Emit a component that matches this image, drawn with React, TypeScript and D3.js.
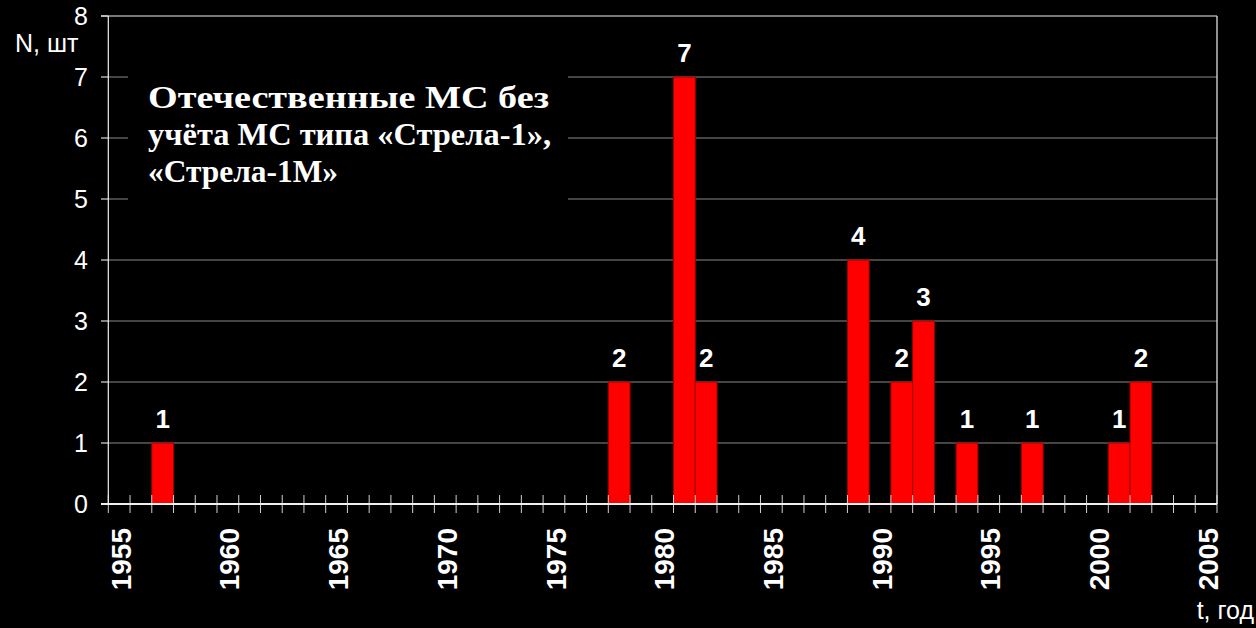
import React from "react";
import * as d3 from "d3";

const years: number[] = d3.range(1955, 2006);
const barYears: number[] = [1957, 1978, 1981, 1982, 1989, 1991, 1992, 1994, 1997, 2001, 2002];
const barValues: number[] = [1, 2, 7, 2, 4, 2, 3, 1, 1, 1, 2];
const yTicks: number[] = [0, 1, 2, 3, 4, 5, 6, 7, 8];
const xLabelYears: number[] = [1955, 1960, 1965, 1970, 1975, 1980, 1985, 1990, 1995, 2000, 2005];
const titleLines: string[] = ["Отечественные МС без", "учёта МС типа «Стрела-1»,", "«Стрела-1М»"];
const titleWidths: number[] = [401, 403, 190];
const yAxisTitle = "N, шт";
const xAxisTitle = "t, год";

const W = 1256;
const H = 628;
const left = 108.3;
const right = 1217;
const top = 16;
const bottom = 504;

export default function App() {
  const x = d3.scaleBand<number>().domain(years).range([left, right]).padding(0);
  const y = d3.scaleLinear().domain([0, 8]).range([bottom, top]);
  const step = x.step();
  const sans = "'Liberation Sans', Arial, sans-serif";
  const serif = "'Liberation Serif', 'Times New Roman', serif";

  return (
    <div style={{ position: "fixed", left: 0, top: 0, width: W, height: H, background: "#000" }}>
      <svg width={W} height={H} style={{ display: "block" }}>
        <rect x={0} y={0} width={W} height={H} fill="#000" />
        {yTicks.filter((v) => v > 0 && v < 8).map((v) => (
          <line key={"g" + v} x1={left} x2={right} y1={y(v)} y2={y(v)} stroke="#8a8a8a" strokeWidth={1.2} />
        ))}
        {yTicks.map((v) => (
          <line key={"yt" + v} x1={101} x2={left} y1={y(v)} y2={y(v)} stroke="#d8d8d8" strokeWidth={1.2} />
        ))}
        <rect x={128} y={62} width={440} height={148} fill="#000" />
        {titleLines.map((t, i) => (
          <text
            key={"t" + i}
            x={148}
            y={108 + i * 37}
            fill="#fff"
            fontFamily={serif}
            fontWeight="bold"
            fontSize={32}
            textLength={titleWidths[i]}
            lengthAdjust="spacingAndGlyphs"
          >
            {t}
          </text>
        ))}
        {barYears.map((yr, i) => (
          <rect
            key={"b" + yr}
            x={x(yr)!}
            y={y(barValues[i])}
            width={step}
            height={bottom - y(barValues[i])}
            fill="#ff0000"
            stroke="#a00000"
            strokeWidth={1}
          />
        ))}
        {d3.range(0, years.length + 1).map((i) => (
          <line key={"xt" + i} x1={left + i * step} x2={left + i * step} y1={495} y2={513} stroke="#d0d0d0" strokeWidth={1} />
        ))}
        <line x1={101} x2={right} y1={top} y2={top} stroke="#f0f0f0" strokeWidth={1.2} />
        <line x1={right} x2={right} y1={top} y2={bottom} stroke="#f0f0f0" strokeWidth={1.2} />
        <line x1={left} x2={left} y1={top} y2={bottom} stroke="#f0f0f0" strokeWidth={1.2} />
        <line x1={101} x2={right} y1={bottom} y2={bottom} stroke="#f0f0f0" strokeWidth={2} />
        {yTicks.map((v) => (
          <text key={"yl" + v} x={88} y={y(v)} dy="0.36em" textAnchor="end" fill="#fff" fontFamily={sans} fontSize={25}>
            {v}
          </text>
        ))}
        {xLabelYears.map((yr) => {
          const cx = x(yr)! + step / 2 + 1.5;
          return (
            <text
              key={"xl" + yr}
              transform={`translate(${cx},528) rotate(-90)`}
              dy="0.36em"
              textAnchor="end"
              fill="#fff"
              fontFamily={sans}
              fontWeight="bold"
              fontSize={28}
            >
              {yr}
            </text>
          );
        })}
        {barYears.map((yr, i) => (
          <text
            key={"dl" + yr}
            x={x(yr)! + step / 2}
            y={y(barValues[i]) - 15}
            textAnchor="middle"
            fill="#fff"
            fontFamily={sans}
            fontWeight="bold"
            fontSize={26}
          >
            {barValues[i]}
          </text>
        ))}
        <text x={15} y={52} fill="#fff" fontFamily={sans} fontSize={25}>{yAxisTitle}</text>
        <text x={1254} y={619} textAnchor="end" fill="#fff" fontFamily={sans} fontSize={25}>{xAxisTitle}</text>
      </svg>
    </div>
  );
}
